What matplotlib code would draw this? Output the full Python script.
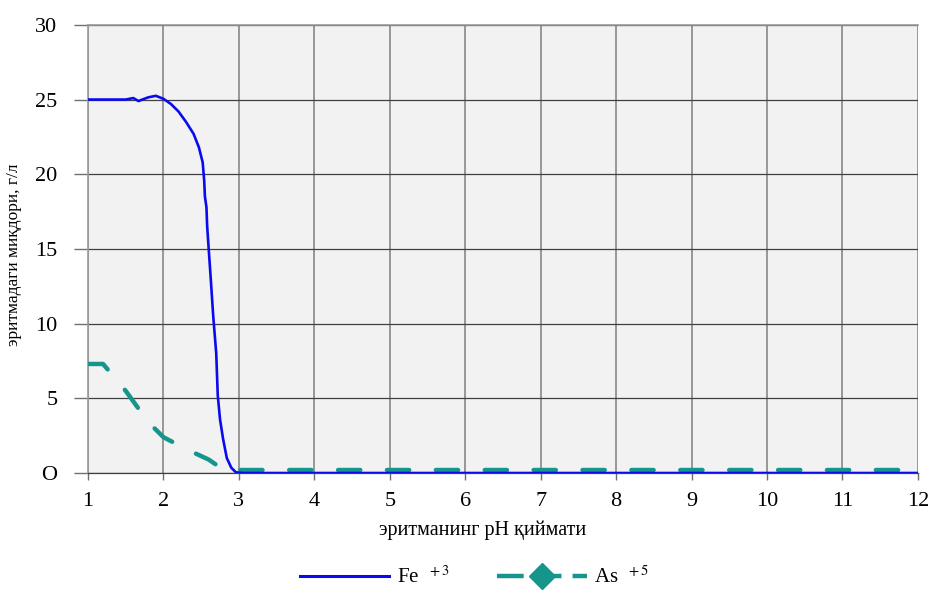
import matplotlib
matplotlib.use("Agg")
import matplotlib.pyplot as plt
from matplotlib.lines import Line2D

plt.rcParams["font.family"] = ["Liberation Serif", "DejaVu Serif"]
plt.rcParams["mathtext.fontset"] = "stix"

# Fe+3 — эритмадаги миқдори, г/л
fe_ph = [1.0, 1.5, 1.6, 1.67, 1.72, 1.8, 1.9, 2.0, 2.1, 2.2, 2.3, 2.4, 2.47, 2.52,
         2.54, 2.55, 2.57, 2.58, 2.6, 2.63, 2.66, 2.7, 2.72, 2.75, 2.79, 2.84, 2.9,
         2.96, 3.05, 12.0]
fe_val = [25.0, 25.0, 25.1, 24.9, 25.0, 25.15, 25.25, 25.05, 24.7, 24.2, 23.5, 22.7, 21.8, 20.8,
          19.6, 18.5, 17.8, 16.5, 15.0, 12.8, 10.5, 8.0, 5.2, 3.6, 2.3, 1.0, 0.35,
          0.05, 0.0, 0.0]

# As+5
as_ph = [1.0, 1.2, 1.5, 1.8, 2.0, 2.3, 2.6, 2.8, 3.0, 11.75]
as_val = [7.3, 7.3, 5.5, 3.4, 2.4, 1.6, 0.9, 0.2, 0.2, 0.2]

x_ticks = list(range(1, 13))
y_ticks = [0, 5, 10, 15, 20, 25, 30]
y_labels = ["O", "5", "10", "15", "20", "25", "30"]

blue = "#0a0aee"
teal = "#15958c"

fig = plt.figure(figsize=(9.3, 5.92), dpi=100)
ax = fig.add_axes([0.0946, 0.201, 0.8924, 0.757])
ax.set_facecolor("#f2f2f2")

ax.plot(as_ph, as_val, color=teal, lw=3.2, dashes=(5, 6), dash_capstyle="round", zorder=3)
ax.plot(fe_ph, fe_val, color=blue, lw=1.9, zorder=4)

ax.set_xlim(1, 12)
ax.set_ylim(0, 30)
ax.set_xticks(x_ticks)
ax.set_yticks(y_ticks)
ax.set_yticklabels(y_labels)
ax.tick_params(axis="both", labelsize=16, color="#707070", width=1)
ax.tick_params(axis="y", length=10, pad=12)
ax.tick_params(axis="x", length=5, pad=9)

ax.xaxis.grid(True, color="#888888", lw=1.2)
ax.yaxis.grid(True, color="#404040", lw=0.9)
ax.set_axisbelow(True)
for side in ["left", "top"]:
    ax.spines[side].set_color("#999999")
    ax.spines[side].set_linewidth(1.2)
ax.spines["right"].set_visible(False)
ax.spines["bottom"].set_color("#404040")
ax.spines["bottom"].set_linewidth(0.9)

ax.set_xlabel("эритманинг pH қиймати", fontsize=14.5)
ax.xaxis.set_label_coords(0.475, -0.105)
ax.set_ylabel("эритмадаги миқдори, г/л", fontsize=12.5)
ax.yaxis.set_label_coords(-0.08, 0.487)

handles = [
    Line2D([], [], color=blue, lw=2.2),
    Line2D([], [], color=teal, lw=3.2, dashes=(6, 2.5), marker="D", markersize=13,
           markevery=[1]),
]
labels = [r"Fe $^{\ +3}$", r"As $^{\ +5}$"]
fig.legend(handles, labels, loc="lower center", bbox_to_anchor=(0.51, -0.025), ncol=2,
           frameon=False, fontsize=15, handlelength=4.3, columnspacing=2.3,
           handletextpad=0.35)

fig.savefig("out.png", dpi=100)
